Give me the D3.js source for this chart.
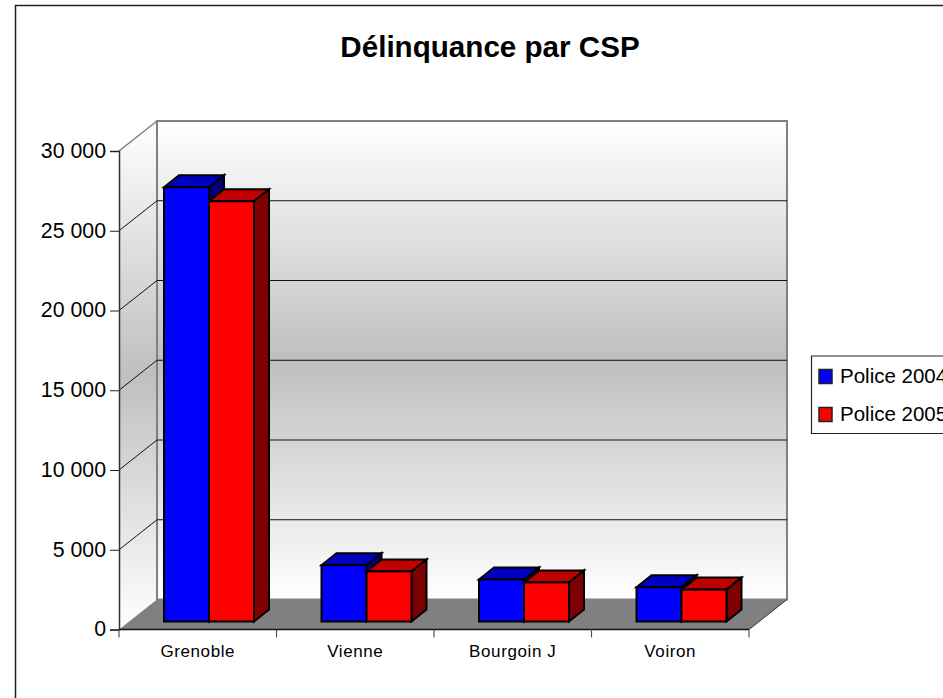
<!DOCTYPE html>
<html>
<head>
<meta charset="utf-8">
<script src="https://cdn.jsdelivr.net/npm/d3@7"></script>
<style>
html, body { margin: 0; padding: 0; background: #fff; overflow: hidden; }
svg { display: block; font-family: "Liberation Sans", Arial, sans-serif; }
</style>
</head>
<body>
<svg width="943" height="698"></svg>
<script>
'use strict'

const categories = ['Grenoble', 'Vienne', 'Bourgoin J', 'Voiron']
const seriesNames = ['Police 2004', 'Police 2005']
const police2004 = [27230, 3530, 2630, 2150]
const police2005 = [26350, 3140, 2450, 2000]
const yTicks = [0, 5000, 10000, 15000, 20000, 25000, 30000]

const seriesValues = [police2004, police2005]
const faceColors = [
	{ front: '#0000ff', top: '#0000bf', side: '#00007f' },
	{ front: '#ff0000', top: '#bf0000', side: '#7f0000' }
]

const svg = d3.select('svg')

// depth of the floor and of the bars, in pixels
const depthX = 38, depthY = 30
const barDepthX = 15, barDepthY = 12
const barOffset = 8

const x = d3.scaleBand().domain(categories).range([119, 749])
const xSeries = d3.scaleBand().domain(seriesNames).range([45, 135])
const y = d3.scaleLinear().domain([0, 30000]).range([629.5, 151])

const defs = svg.append('defs')

function wallGradient(id) {
	const g = defs.append('linearGradient')
		.attr('id', id)
		.attr('x1', 0).attr('y1', 0)
		.attr('x2', 0).attr('y2', 1)
	g.append('stop').attr('offset', '0%').attr('stop-color', '#ffffff')
	g.append('stop').attr('offset', '50%').attr('stop-color', '#bfbfbf')
	g.append('stop').attr('offset', '100%').attr('stop-color', '#ffffff')
}
wallGradient('wall')

// outer border, runs off the right and bottom of the picture
svg.append('path')
	.attr('d', 'M15.5,698V5.5H943')
	.attr('fill', 'none')
	.attr('stroke', '#222')
	.attr('stroke-width', 1.5)

svg.append('text')
	.attr('x', 490)
	.attr('y', 57)
	.attr('text-anchor', 'middle')
	.attr('font-size', 29.6)
	.attr('font-weight', 'bold')
	.text('Délinquance par CSP')

const x0 = x.range()[0], x1 = x.range()[1]
const yBase = y(0), yTop = y(30000)

// left wall
svg.append('path')
	.attr('d', d3.line()([[x0, yBase], [x0 + depthX, yBase - depthY], [x0 + depthX, yTop - depthY], [x0, yTop]]) + 'Z')
	.attr('fill', 'url(#wall)')

// back wall
svg.append('rect')
	.attr('x', x0 + depthX)
	.attr('y', yTop - depthY)
	.attr('width', x1 - x0)
	.attr('height', yBase - yTop)
	.attr('fill', 'url(#wall)')
	.attr('stroke', '#808080')
	.attr('stroke-width', 2)

// floor
svg.append('path')
	.attr('d', d3.line()([[x0, yBase], [x0 + depthX, yBase - depthY], [x1 + depthX, yBase - depthY], [x1, yBase]]) + 'Z')
	.attr('fill', '#808080')

// gridlines
const grid = svg.append('g').attr('fill', 'none').attr('stroke', '#111').attr('stroke-width', 1)
yTicks.filter(function(d) { return d > 0 && d < 30000 }).forEach(function(d) {
	grid.append('path')
		.attr('d', d3.line()([[x0, y(d)], [x0 + depthX, y(d) - depthY], [x1 + depthX, y(d) - depthY]]))
})

// left wall top edge
svg.append('path')
	.attr('d', d3.line()([[x0, yTop], [x0 + depthX, yTop - depthY]]))
	.attr('stroke', '#808080')
	.attr('stroke-width', 1.5)

svg.append('path')
	.attr('d', d3.line()([[x1, yBase], [x1 + depthX, yBase - depthY]]))
	.attr('stroke', '#333')
	.attr('stroke-width', 1)

// bars
const barsBase = yBase - barOffset

categories.forEach(function(cat, i) {
	seriesNames.forEach(function(name, s) {
		const c = faceColors[s]
		const bx = x(cat) + xSeries(name)
		const bw = xSeries.bandwidth()
		const by = y(seriesValues[s][i]) - barOffset

		const g = svg.append('g')
			.attr('stroke', '#000')
			.attr('stroke-width', 2)
			.attr('stroke-linejoin', 'miter')

		g.append('path')
			.attr('fill', c.top)
			.attr('d', d3.line()([[bx, by], [bx + barDepthX, by - barDepthY], [bx + bw + barDepthX, by - barDepthY], [bx + bw, by]]) + 'Z')
		g.append('path')
			.attr('fill', c.side)
			.attr('d', d3.line()([[bx + bw, by], [bx + bw + barDepthX, by - barDepthY], [bx + bw + barDepthX, barsBase - barDepthY], [bx + bw, barsBase]]) + 'Z')
		g.append('rect')
			.attr('fill', c.front)
			.attr('x', bx)
			.attr('y', by)
			.attr('width', bw)
			.attr('height', barsBase - by)
	})
})

// axes
const spaced = function(d) { return d3.format(',')(d).replace(/,/g, ' ') }

const yAxis = svg.append('g')
	.attr('transform', 'translate(' + x0 + ',0)')
	.call(d3.axisLeft(y).tickValues(yTicks).tickFormat(spaced).tickSize(9).tickPadding(4))
yAxis.select('.domain').attr('stroke', '#333').attr('stroke-width', 1.5)
yAxis.selectAll('.tick line').attr('stroke', '#222')
yAxis.selectAll('text')
	.attr('font-size', 21.3)
	.attr('dy', '0.3em')
	.attr('font-family', '"Liberation Sans", Arial, sans-serif')
	.attr('fill', '#000')

const xAxis = svg.append('g')
	.attr('transform', 'translate(0,' + yBase + ')')
	.call(d3.axisBottom(x).tickSize(0).tickPadding(15))
xAxis.select('.domain').remove()
xAxis.selectAll('text')
	.attr('font-size', 17)
	.attr('font-family', '"Liberation Sans", Arial, sans-serif')
	.attr('letter-spacing', 0.6)
	.attr('fill', '#000')

svg.append('path')
	.attr('d', d3.line()([[x0, yBase], [x1, yBase]]))
	.attr('stroke', '#111')
	.attr('stroke-width', 1.5)

const tickPositions = categories.map(function(c) { return x(c) }).concat([x1])
svg.append('g').selectAll('line')
	.data(tickPositions)
	.enter().append('line')
	.attr('x1', function(d) { return d })
	.attr('x2', function(d) { return d })
	.attr('y1', yBase)
	.attr('y2', yBase + 8)
	.attr('stroke', '#555')
	.attr('stroke-width', 1.2)

// legend
svg.append('path')
	.attr('d', 'M943,356H811.5V433.5H943')
	.attr('fill', '#fff')
	.attr('stroke', '#222')
	.attr('stroke-width', 1.2)

const legend = svg.append('g').selectAll('g')
	.data(seriesNames)
	.enter().append('g')
	.attr('transform', function(d, i) { return 'translate(819,' + (369.5 + i * 38) + ')' })

legend.append('rect')
	.attr('width', 13)
	.attr('height', 14)
	.attr('fill', function(d, i) { return faceColors[i].front })
	.attr('stroke', '#222')
	.attr('stroke-width', 1.5)

legend.append('text')
	.attr('x', 21)
	.attr('y', 13)
	.attr('font-size', 20.5)
	.text(function(d) { return d })
</script>
</body>
</html>
